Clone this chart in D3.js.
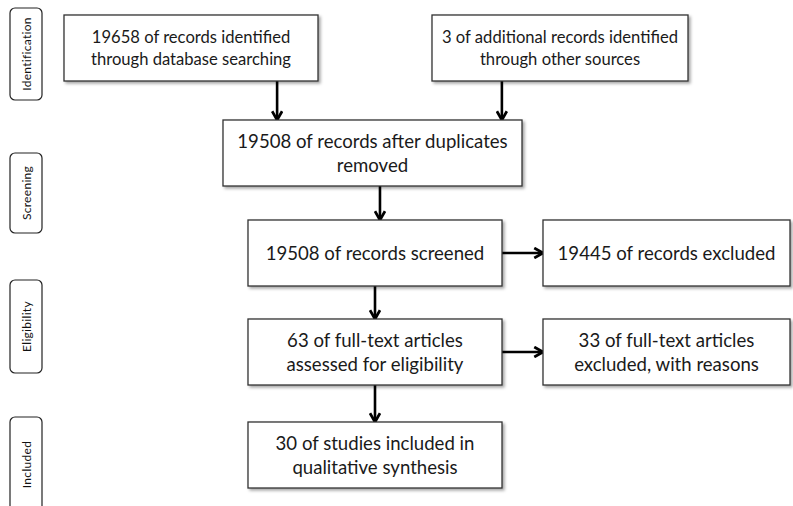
<!DOCTYPE html>
<html><head><meta charset="utf-8">
<script src="https://cdn.jsdelivr.net/npm/d3@7"></script>
<style>body{margin:0;background:#fff;overflow:hidden}svg{display:block}</style>
</head><body><svg id="c" width="793" height="506"></svg>
<script>
const stages = ["Identification","Screening","Eligibility","Included"];
const counts = [19658, 3, 19508, 19508, 19445, 63, 33, 30];
const boxLines = [
  [counts[0]+" of records identified","through database searching"],
  [counts[1]+" of additional records identified","through other sources"],
  [counts[2]+" of records after duplicates","removed"],
  [counts[3]+" of records screened"],
  [counts[4]+" of records excluded"],
  [counts[5]+" of full-text articles","assessed for eligibility"],
  [counts[6]+" of full-text articles","excluded, with reasons"],
  [counts[7]+" of studies included in","qualitative synthesis"]
];
// layout: column key, row index
const boxCol = ["idL","idR","dup","main","side","main","side","main"];
const boxRow = [0,0,1,2,2,3,3,4];
// [source, target, direction, fraction of source width where a vertical arrow leaves]
const links = [[0,2,"v",0.839],[1,2,"v",0.273],[2,3,"v",0.525],[3,4,"h"],[3,5,"v",0.5],[5,6,"h"],[5,7,"v",0.5]];

const svg = d3.select("#c");
const cols = ["idL","idR","dup","main","side"];
const colX = d3.scaleOrdinal().domain(cols).range([64,432,223,248,543]);
const colW = d3.scaleOrdinal().domain(cols).range([254,256,299,254,247]);
const rowY = d3.scaleOrdinal().domain([0,1,2,3,4]).range([15,120,220,319,422]);
const rowFont = d3.scaleOrdinal().domain([0,1,2,3,4]).range([16.6,18.6,18.6,18.6,18.6]);
const rowLH = d3.scaleOrdinal().domain([0,1,2,3,4]).range([22.5,24,24,24,24]);
const boxH = 66;
const stageY = d3.scaleOrdinal().domain(stages).range([8,153,280,417]);
const stageH = d3.scaleOrdinal().domain(stages).range([92,80,93,95]);

const defs = svg.append("defs");
const f = defs.append("filter").attr("id","sh").attr("x","-10%").attr("y","-10%").attr("width","130%").attr("height","140%");
f.append("feDropShadow").attr("dx",2).attr("dy",2).attr("stdDeviation",1.5).attr("flood-color","#000").attr("flood-opacity",0.35);
defs.append("marker").attr("id","ah").attr("viewBox","0 0 10 10").attr("refX",8.5).attr("refY",5)
  .attr("markerWidth",4.8).attr("markerHeight",4.8).attr("orient","auto").attr("markerUnits","strokeWidth")
  .append("path").attr("d","M1.5,1 L8.5,5 L1.5,9").attr("fill","none").attr("stroke","#000").attr("stroke-width",2.2);

// stage labels
const sg = svg.selectAll("g.stage").data(stages).join("g").attr("class","stage");
sg.append("rect").attr("x",10).attr("y",d=>stageY(d)).attr("width",32).attr("height",d=>stageH(d))
  .attr("rx",5).attr("fill","#fff").attr("stroke","#222").attr("stroke-width",1.2);
sg.append("text").attr("transform",d=>`translate(30.5,${stageY(d)+stageH(d)/2}) rotate(-90)`)
  .attr("text-anchor","middle").attr("font-family","Lato, 'Open Sans', sans-serif").attr("font-size",12)
  .attr("letter-spacing",0.3).attr("fill","#111").text(d=>d);

const B = boxLines.map((l,i)=>({lines:l,row:boxRow[i],x:colX(boxCol[i]),w:colW(boxCol[i]),y:rowY(boxRow[i]),h:boxH}));

// arrows
const ax = d=>{const a=B[d[0]];return a.x+a.w*d[3];};
svg.selectAll("line.arr").data(links).join("line").attr("class","arr")
  .attr("x1",d=>d[2]==="v"?ax(d):B[d[0]].x+B[d[0]].w)
  .attr("y1",d=>{const a=B[d[0]];return d[2]==="v"?a.y+a.h:a.y+a.h/2;})
  .attr("x2",d=>d[2]==="v"?ax(d):B[d[1]].x)
  .attr("y2",d=>{const a=B[d[0]],b=B[d[1]];return d[2]==="v"?b.y:a.y+a.h/2;})
  .attr("stroke","#000").attr("stroke-width",2.6).attr("marker-end","url(#ah)");

// boxes
const bg = svg.selectAll("g.box").data(B).join("g").attr("class","box");
bg.append("rect").attr("x",d=>d.x).attr("y",d=>d.y).attr("width",d=>d.w).attr("height",d=>d.h)
  .attr("fill","#fff").attr("stroke","#333").attr("stroke-width",1.3).attr("filter","url(#sh)");
bg.each(function(d){
  const g=d3.select(this);
  const n=d.lines.length, lh=rowLH(d.row), fs=rowFont(d.row);
  d.lines.forEach((t,k)=>{
    g.append("text").attr("x",d.x+d.w/2).attr("y",d.y+d.h/2+(k-(n-1)/2)*lh+fs*0.36)
      .attr("text-anchor","middle").attr("font-family","Lato, 'Open Sans', sans-serif")
      .attr("font-size",fs).attr("fill","#1a1a1a").text(t);
  });
});
</script></body></html>
